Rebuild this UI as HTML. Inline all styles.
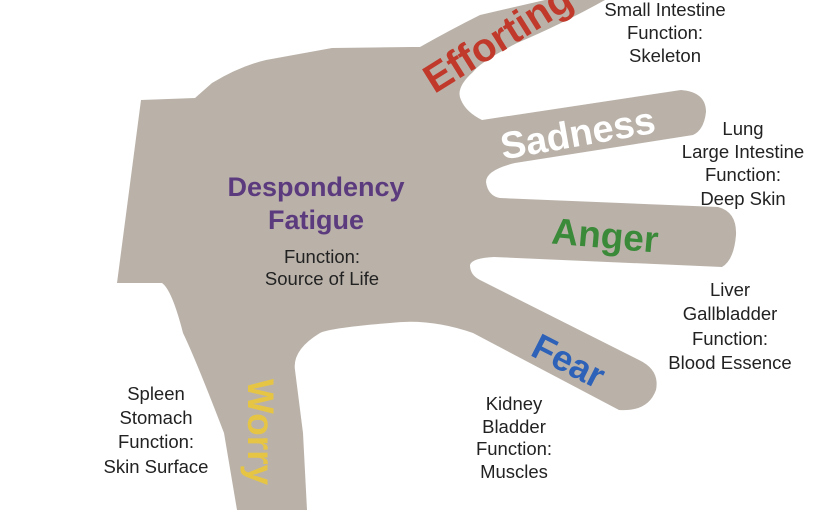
<!DOCTYPE html>
<html><head><meta charset="utf-8"><style>
html,body{margin:0;padding:0;background:#fff;}
svg{display:block}
text{font-family:"Liberation Sans",Arial,sans-serif;}
.l{font-size:18.5px;fill:#222;text-anchor:middle}
.b{font-weight:bold;text-anchor:middle}
</style></head><body>
<svg width="825" height="510" viewBox="0 0 825 510">
<path fill="#bab2a9" d="M141,100 L195,98 L212,83 Q240,66 266,60 L332,48 L411,47 L420,47 Q450,30 480,15 L545,0 L605,0 Q560,25 517,43 Q480,62 473,72 Q455,88 461,100 Q466,112 482,120 L681,90 Q706,92 706,112 Q704,130 693,135 L515,163 Q486,170 486,182 Q488,196 500,198 L718,207 Q737,212 736,235 Q734,260 722,267 L494,257 Q472,258 470,265 Q470,275 480,280 L639,360 Q660,370 656,390 Q648,412 619,410 L473,333 Q430,318 390,323 Q330,328 320,333 Q292,350 295,370 L303,433 L307,510 L237,510 L224,433 Q196,360 183,333 Q172,290 162,283 L117,283 Z"/>
<text class="b" font-size="40" fill="#c0392b" transform="translate(505,50) rotate(-32)">Efforting</text>
<text class="b" font-size="38" fill="#fff" transform="translate(580,146) rotate(-10)">Sadness</text>
<text class="b" font-size="37" fill="#3a8a3a" transform="translate(604,248) rotate(5)">Anger</text>
<text class="b" font-size="36" fill="#2d62b8" transform="translate(563,372) rotate(27)">Fear</text>
<text class="b" font-size="37" fill="#e6c544" transform="translate(248,432) rotate(90)">Worry</text>
<text class="b" font-size="27" fill="#5b3a7e" x="316" y="196">Despondency</text>
<text class="b" font-size="27" fill="#5b3a7e" x="316" y="229">Fatigue</text>
<text class="l" x="322" y="263">Function:</text>
<text class="l" x="322" y="285">Source of Life</text>
<text class="l" x="665" y="16">Small Intestine</text>
<text class="l" x="665" y="39">Function:</text>
<text class="l" x="665" y="62">Skeleton</text>
<text class="l" x="743" y="135">Lung</text>
<text class="l" x="743" y="158">Large Intestine</text>
<text class="l" x="743" y="181">Function:</text>
<text class="l" x="743" y="205">Deep Skin</text>
<text class="l" x="730" y="296">Liver</text>
<text class="l" x="730" y="320">Gallbladder</text>
<text class="l" x="730" y="345">Function:</text>
<text class="l" x="730" y="369">Blood Essence</text>
<text class="l" x="514" y="410">Kidney</text>
<text class="l" x="514" y="433">Bladder</text>
<text class="l" x="514" y="455">Function:</text>
<text class="l" x="514" y="478">Muscles</text>
<text class="l" x="156" y="400">Spleen</text>
<text class="l" x="156" y="424">Stomach</text>
<text class="l" x="156" y="448">Function:</text>
<text class="l" x="156" y="473">Skin Surface</text>
</svg>
</body></html>
